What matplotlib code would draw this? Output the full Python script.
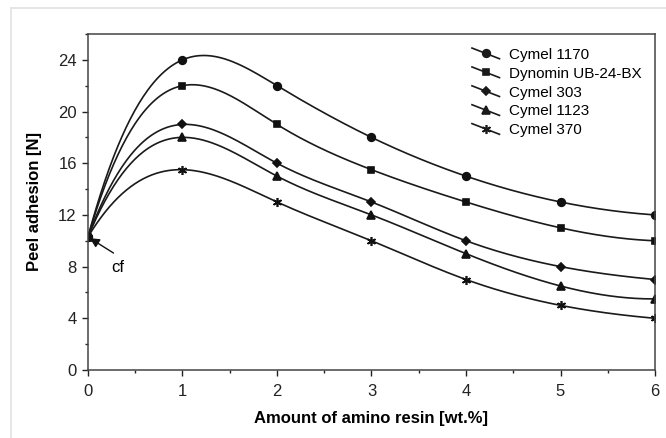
import numpy as np
import matplotlib
matplotlib.use("Agg")
import matplotlib.pyplot as plt
from matplotlib.legend_handler import HandlerLine2D
from matplotlib.lines import Line2D
from matplotlib.ticker import MultipleLocator

plt.rcParams['font.family'] = ['Liberation Sans', 'DejaVu Sans']

# Data
resin = [0, 1, 2, 3, 4, 5, 6]
names = ["Cymel 1170", "Dynomin UB-24-BX", "Cymel 303", "Cymel 1123", "Cymel 370"]
cymel_1170 = [10.3, 24.0, 22.0, 18.0, 15.0, 13.0, 12.0]
dynomin = [10.3, 22.0, 19.0, 15.5, 13.0, 11.0, 10.0]
cymel_303 = [10.3, 19.0, 16.0, 13.0, 10.0, 8.0, 7.0]
cymel_1123 = [10.3, 18.0, 15.0, 12.0, 9.0, 6.5, 5.5]
cymel_370 = [10.3, 15.5, 13.0, 10.0, 7.0, 5.0, 4.0]
series = [cymel_1170, dynomin, cymel_303, cymel_1123, cymel_370]
markers = ["o", "s", "D", "^", (6, 2, 0)]
msizes = [5.5, 5, 4, 5.5, 6.5]


def spline(x, y, xs):
    # cubic spline with not-a-knot ends
    x = np.asarray(x, float)
    y = np.asarray(y, float)
    n = len(x)
    h = np.diff(x)
    A = np.zeros((n, n))
    b = np.zeros(n)
    for i in range(1, n - 1):
        A[i, i - 1] = h[i - 1]
        A[i, i] = 2 * (h[i - 1] + h[i])
        A[i, i + 1] = h[i]
        b[i] = 6 * ((y[i + 1] - y[i]) / h[i] - (y[i] - y[i - 1]) / h[i - 1])
    A[0, 0], A[0, 1], A[0, 2] = h[1], -(h[0] + h[1]), h[0]
    A[-1, -3], A[-1, -2], A[-1, -1] = h[-1], -(h[-2] + h[-1]), h[-2]
    M = np.linalg.solve(A, b)
    idx = np.clip(np.searchsorted(x, xs) - 1, 0, n - 2)
    x0, x1 = x[idx], x[idx + 1]
    hh = x1 - x0
    t0, t1 = x1 - xs, xs - x0
    return (M[idx] * t0 ** 3 / (6 * hh) + M[idx + 1] * t1 ** 3 / (6 * hh)
            + (y[idx] / hh - M[idx] * hh / 6) * t0
            + (y[idx + 1] / hh - M[idx + 1] * hh / 6) * t1)


class SlantHandler(HandlerLine2D):
    # legend line drawn as a short diagonal stroke
    def create_artists(self, legend, orig_handle, xdescent, ydescent,
                       width, height, fontsize, trans):
        arts = super().create_artists(legend, orig_handle, xdescent, ydescent,
                                      width, height, fontsize, trans)
        yc = (height - ydescent) / 2
        for a in arts:
            xd = np.asarray(a.get_xdata(), float)
            a.set_ydata(np.linspace(yc + 0.5 * height, yc - 0.5 * height, len(xd)))
        return arts


fig = plt.figure(figsize=(6.66, 4.38), dpi=100)
ax = fig.add_axes([0.1321, 0.1553, 0.8514, 0.7671])

# light frame around the figure
fig.add_artist(Line2D([11 / 666, 11 / 666], [0, 1 - 8 / 438], transform=fig.transFigure,
                      color="#e2e2e2", lw=1.2))
fig.add_artist(Line2D([11 / 666, 1], [1 - 8 / 438, 1 - 8 / 438], transform=fig.transFigure,
                      color="#e2e2e2", lw=1.2))

xs = np.linspace(0, 6, 400)
handles = []
for name, vals, mk, ms in zip(names, series, markers, msizes):
    ax.plot(xs, spline(resin, vals, xs), color="#1a1a1a", lw=1.2)
    ax.plot(resin, vals, linestyle="none", marker=mk, ms=ms, color="#111111", mew=1.2)
    handles.append(Line2D([], [], color="#1a1a1a", lw=1.2, marker=mk, ms=ms, mew=1.2,
                          label=name))

ax.set_xlim(0, 6)
ax.set_ylim(0, 26)
ax.xaxis.set_major_locator(MultipleLocator(1))
ax.xaxis.set_minor_locator(MultipleLocator(0.5))
ax.yaxis.set_major_locator(MultipleLocator(4))
ax.yaxis.set_minor_locator(MultipleLocator(2))
ax.tick_params(which="major", direction="out", length=4, width=1, labelsize=12,
               colors="#222222")
ax.tick_params(axis="x", which="major", pad=6)
ax.tick_params(axis="y", which="major", pad=4)
ax.tick_params(which="minor", direction="out", length=2.5, width=1, colors="#222222")
for s in ax.spines.values():
    s.set_color("#444444")
    s.set_linewidth(1.1)

ax.set_xlabel("Amount of amino resin [wt.%]", fontsize=12, fontweight="bold", labelpad=9)
ax.set_ylabel("Peel adhesion [N]", fontsize=12, fontweight="bold", labelpad=12)

# arrow pointing at the common starting value
ax.annotate("", xy=(0.02, 10.2), xytext=(0.27, 9.05),
            arrowprops=dict(arrowstyle="-|>", color="#111111", lw=1,
                            shrinkA=0, shrinkB=0, mutation_scale=14))
ax.text(0.32, 7.9, "cf", fontsize=12, ha="center", va="center")

ax.legend(handles=handles, loc="upper right", bbox_to_anchor=(1.0, 1.0), frameon=False,
          fontsize=11, handler_map={Line2D: SlantHandler(numpoints=1)},
          handlelength=1.8, handletextpad=0.6, labelspacing=0.32, borderaxespad=0.5)

plt.savefig("out.png", dpi=100)
